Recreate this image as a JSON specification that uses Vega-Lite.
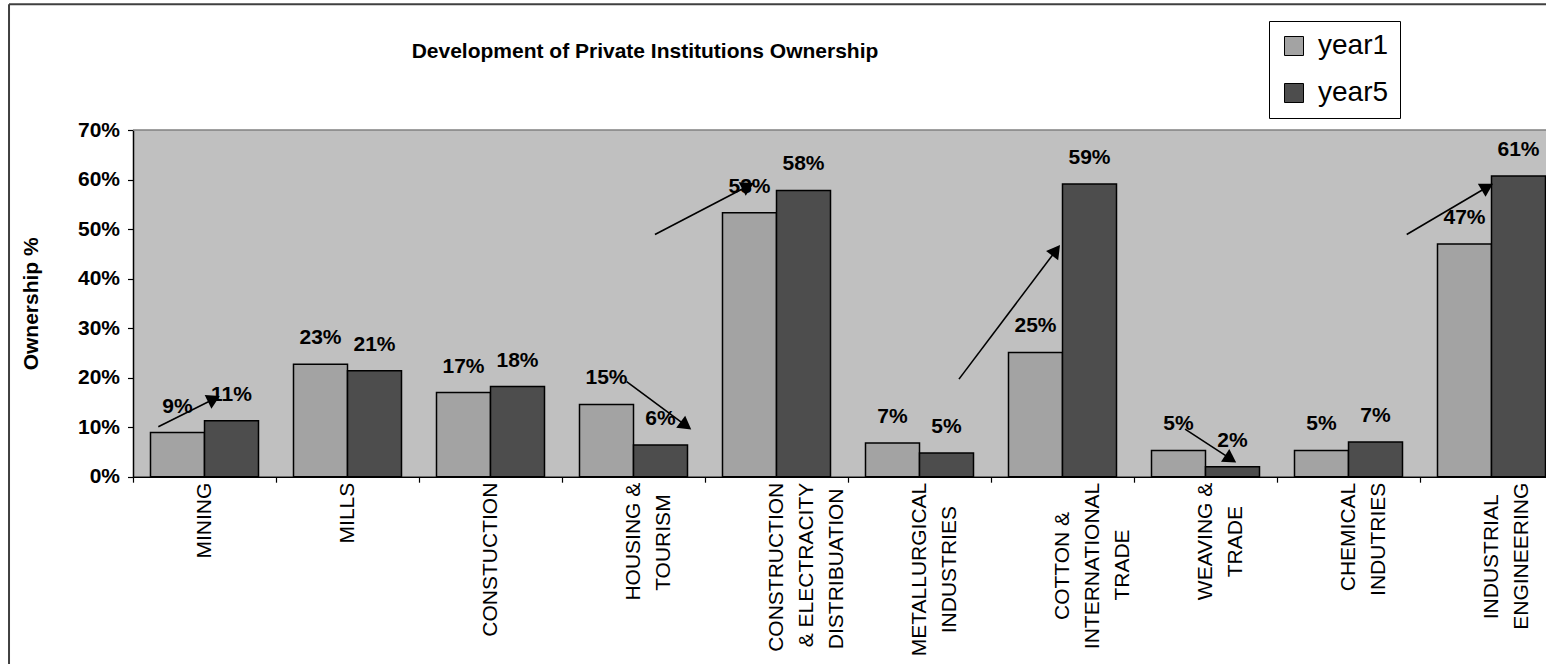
{
  "$schema": "https://vega.github.io/schema/vega-lite/v6.json",
  "width": 1413,
  "height": 346.7,
  "autosize": {"type": "none"},
  "padding": {"left": 133, "top": 130, "right": 0, "bottom": 187.3},
  "background": "white",
  "config": {
    "font": "Liberation Sans",
    "view": {"stroke": null, "fill": "#C0C0C0"}
  },
  "title": {
    "text": "Development of Private Institutions Ownership",
    "font": "Liberation Sans",
    "fontSize": 21,
    "fontWeight": "bold",
    "color": "black",
    "anchor": "middle",
    "frame": "group",
    "dx": -194.5,
    "baseline": "alphabetic",
    "offset": -76
  },
  "datasets": {
    "bars": [
      {"cat": "MINING", "series": "year1", "value": 0.089},
      {"cat": "MINING", "series": "year5", "value": 0.113},
      {"cat": "MILLS", "series": "year1", "value": 0.227},
      {"cat": "MILLS", "series": "year5", "value": 0.214},
      {"cat": "CONSTUCTION", "series": "year1", "value": 0.170},
      {"cat": "CONSTUCTION", "series": "year5", "value": 0.182},
      {"cat": "HOUSING &\nTOURISM\u00a0\u00a0\u200b", "series": "year1", "value": 0.146},
      {"cat": "HOUSING &\nTOURISM\u00a0\u00a0\u200b", "series": "year5", "value": 0.064},
      {"cat": "CONSTRUCTION\n& ELECTRACITY\nDISTRIBUATION\u00a0\u200b", "series": "year1", "value": 0.533},
      {"cat": "CONSTRUCTION\n& ELECTRACITY\nDISTRIBUATION\u00a0\u200b", "series": "year5", "value": 0.578},
      {"cat": "METALLURGICAL\nINDUSTRIES\u00a0\u00a0\u00a0\u00a0\u200b", "series": "year1", "value": 0.068},
      {"cat": "METALLURGICAL\nINDUSTRIES\u00a0\u00a0\u00a0\u00a0\u200b", "series": "year5", "value": 0.048},
      {"cat": "COTTON &\u00a0\u00a0\u00a0\u00a0\u00a0\u200b\nINTERNATIONAL\nTRADE\u00a0\u00a0\u00a0\u00a0\u00a0\u00a0\u00a0\u00a0\u200b", "series": "year1", "value": 0.251},
      {"cat": "COTTON &\u00a0\u00a0\u00a0\u00a0\u00a0\u200b\nINTERNATIONAL\nTRADE\u00a0\u00a0\u00a0\u00a0\u00a0\u00a0\u00a0\u00a0\u200b", "series": "year5", "value": 0.591},
      {"cat": "WEAVING &\nTRADE\u00a0\u00a0\u00a0\u00a0\u200b", "series": "year1", "value": 0.053},
      {"cat": "WEAVING &\nTRADE\u00a0\u00a0\u00a0\u00a0\u200b", "series": "year5", "value": 0.020},
      {"cat": "CHEMICAL\nINDUTRIES", "series": "year1", "value": 0.053},
      {"cat": "CHEMICAL\nINDUTRIES", "series": "year5", "value": 0.070},
      {"cat": "INDUSTRIAL\u00a0\u00a0\u200b\nENGINEERING", "series": "year1", "value": 0.470},
      {"cat": "INDUSTRIAL\u00a0\u00a0\u200b\nENGINEERING", "series": "year5", "value": 0.607}
    ],
    "arrows": [
      {"x1": 0.177, "y1": 0.101, "x2": 0.566, "y2": 0.157},
      {"x1": 3.452, "y1": 0.192, "x2": 3.867, "y2": 0.103},
      {"x1": 3.650, "y1": 0.489, "x2": 4.301, "y2": 0.587},
      {"x1": 5.776, "y1": 0.197, "x2": 6.455, "y2": 0.457},
      {"x1": 7.357, "y1": 0.096, "x2": 7.676, "y2": 0.036},
      {"x1": 8.907, "y1": 0.489, "x2": 9.471, "y2": 0.585}
    ]
  },
  "layer": [
    {
      "data": {"name": "bars"},
      "encoding": {
        "x": {
          "field": "cat",
          "type": "nominal",
          "sort": null,
          "scale": {"range": [0, 1430], "paddingInner": 0, "paddingOuter": 0},
          "axis": {
            "title": null,
            "labelAngle": 270,
            "labelAlign": "right",
            "labelBaseline": "middle",
            "labelPadding": 0,
            "labelFont": "Liberation Sans",
            "labelFontSize": 21,
            "labelFontWeight": "normal",
            "labelLineHeight": 30,
            "labelColor": "black",
            "labelExpr": "split(datum.label, '\\n')",
            "labelOverlap": false,
            "labelLimit": 1000,
            "tickBand": "extent",
            "tickSize": 5.5,
            "tickColor": "black",
            "tickWidth": 1.2,
            "domainColor": "black",
            "domainWidth": 1.5
          }
        },
        "xOffset": {
          "field": "series",
          "type": "nominal",
          "scale": {"paddingInner": 0, "paddingOuter": 0.324}
        },
        "y": {
          "field": "value",
          "type": "quantitative",
          "title": "Ownership %",
          "scale": {"domain": [0, 0.7], "nice": false, "zero": true},
          "axis": {
            "title": "Ownership %",
            "titleFont": "Liberation Sans",
            "titleFontSize": 21,
            "titleFontWeight": "bold",
            "titleColor": "black",
            "titlePadding": 36,
            "format": ".0%",
            "values": [0, 0.1, 0.2, 0.3, 0.4, 0.5, 0.6, 0.7],
            "labelFont": "Liberation Sans",
            "labelFontSize": 21,
            "labelFontWeight": "bold",
            "labelColor": "black",
            "labelPadding": 8,
            "tickSize": 5.5,
            "tickColor": "black",
            "tickWidth": 1.2,
            "domainColor": "black",
            "domainWidth": 1.5,
            "grid": false
          }
        }
      },
      "layer": [
        {
          "mark": {"type": "bar", "stroke": "black", "strokeWidth": 1.5},
          "encoding": {
            "color": {
              "field": "series",
              "type": "nominal",
              "scale": {"domain": ["year1", "year5"], "range": ["#A3A3A3", "#4D4D4D"]},
              "legend": {
                "orient": "none",
                "legendX": 1136,
                "legendY": -109,
                "title": null,
                "labelFont": "Liberation Sans",
                "labelFontSize": 28,
                "labelColor": "black",
                "symbolType": "square",
                "symbolSize": 361,
                "symbolStrokeColor": "black",
                "symbolStrokeWidth": 1,
                "symbolOpacity": 1,
                "strokeColor": "black",
                "fillColor": "white",
                "padding": 11,
                "rowPadding": 19,
                "labelOffset": 10
              }
            }
          }
        },
        {
          "mark": {"type": "text", "dy": -26, "fontSize": 21, "fontWeight": "bold", "baseline": "middle", "font": "Liberation Sans", "color": "black"},
          "encoding": {
            "text": {"field": "value", "type": "quantitative", "format": ".0%"}
          }
        }
      ]
    },
    {
      "data": {"name": "arrows"},
      "transform": [
        {"calculate": "atan2((datum.x2 - datum.x1) * 143, (datum.y2 - datum.y1) * 494.3) * 180 / PI", "as": "ang"}
      ],
      "layer": [
        {
          "mark": {"type": "rule", "color": "black", "strokeWidth": 1.6},
          "encoding": {
            "x": {"field": "x1", "type": "quantitative", "scale": {"domain": [0, 10], "range": [0, 1430], "nice": false, "zero": false}, "axis": null},
            "x2": {"field": "x2"},
            "y": {"field": "y1", "type": "quantitative", "title": "Ownership %"},
            "y2": {"field": "y2"}
          }
        },
        {
          "mark": {"type": "point", "shape": "triangle-up", "filled": true, "color": "black", "size": 230, "opacity": 1},
          "encoding": {
            "x": {"field": "x2", "type": "quantitative", "axis": null},
            "y": {"field": "y2", "type": "quantitative", "title": "Ownership %"},
            "angle": {"field": "ang", "type": "quantitative", "scale": null}
          }
        },
        {
          "data": {"values": [{}]},
          "mark": {"type": "rule", "color": "#808080", "strokeWidth": 1.5},
          "encoding": {
            "x": {"datum": 0, "type": "quantitative", "axis": null},
            "x2": {"datum": 10},
            "y": {"datum": 0.7, "type": "quantitative", "title": "Ownership %"}
          }
        },
        {
          "data": {"values": [{}]},
          "mark": {"type": "rule", "color": "#404040", "strokeWidth": 2},
          "encoding": {
            "x": {"datum": -0.867, "type": "quantitative", "axis": null},
            "x2": {"datum": 11},
            "y": {"datum": 0.954, "type": "quantitative", "title": "Ownership %"}
          }
        },
        {
          "data": {"values": [{}]},
          "mark": {"type": "rule", "color": "#404040", "strokeWidth": 2},
          "encoding": {
            "x": {"datum": -0.867, "type": "quantitative", "axis": null},
            "y": {"datum": 0.954, "type": "quantitative", "title": "Ownership %"},
            "y2": {"datum": -0.5}
          }
        }
      ]
    }
  ],
  "resolve": {"scale": {"x": "independent"}}
}
